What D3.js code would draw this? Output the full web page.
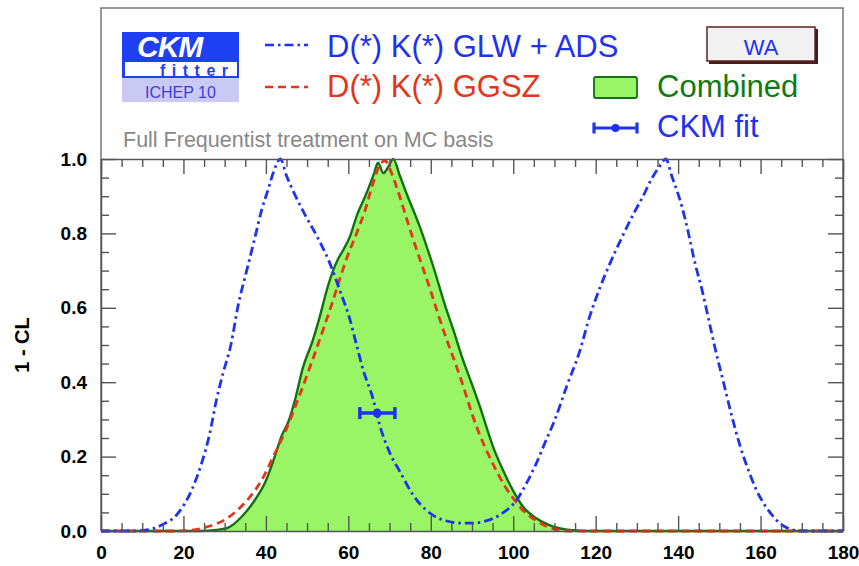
<!DOCTYPE html>
<html>
<head>
<meta charset="utf-8">
<script src="https://cdn.jsdelivr.net/npm/d3@7"></script>
<style>
  html, body { margin: 0; padding: 0; background: #fff; }
  svg { display: block; font-family: "Liberation Sans", Arial, Helvetica, sans-serif; }
</style>
</head>
<body>
<svg id="chart" width="859" height="566"></svg>
<script>
// gamma (degrees) scan, 1 - CL profiles
const glwAds = [
  [0,0],[8,0],[10.7,0.002],[14.7,0.016],[18.7,0.048],[22,0.11],[24.4,0.182],[26.4,0.263],
  [28,0.352],[29.6,0.424],[31.5,0.5],[33.3,0.608],[35.3,0.698],[37.3,0.787],[39,0.864],
  [40.6,0.92],[42,0.97],[43.5,1.0],[45,0.955],[47,0.905],[49.5,0.85],[52.5,0.79],
  [55.5,0.72],[57.9,0.648],[60.4,0.568],[62,0.5],[63.6,0.433],[66,0.355],[67.6,0.285],
  [70.1,0.209],[72.5,0.16],[75.7,0.097],[78.9,0.056],[82.9,0.03],[87.8,0.021],[90.3,0.021],
  [92.7,0.025],[96.7,0.043],[100.8,0.083],[103.2,0.128],[105.6,0.182],[108,0.245],
  [110.1,0.299],[113,0.39],[116.1,0.482],[118.5,0.575],[121,0.653],[123.5,0.72],
  [126.4,0.79],[129.2,0.853],[131.5,0.9],[133.5,0.945],[135.5,0.98],[137,1.0],[138.5,0.953],
  [140.9,0.873],[142.5,0.801],[144.1,0.72],[145.8,0.648],[147.6,0.559],[149,0.49],[151,0.4],
  [153,0.31],[155,0.23],[157,0.165],[159,0.11],[161,0.07],[163,0.04],[165,0.018],
  [167,0.006],[169,0.001],[171,0],[180,0]
];

const ggsz = [
  [0,0],[18,0],[22,0.002],[26,0.012],[30,0.03],[33,0.055],[36,0.09],[39,0.137],[42,0.205],
  [45,0.275],[48,0.36],[51,0.45],[54,0.545],[56,0.61],[58,0.68],[60,0.745],[62,0.8],
  [64,0.86],[66,0.935],[68,0.99],[69,0.995],[70,0.975],[72,0.915],[74,0.845],[76,0.775],
  [78,0.71],[80,0.645],[82,0.575],[84,0.51],[86,0.45],[88,0.385],[90,0.315],[92,0.255],
  [94,0.205],[96,0.16],[98,0.12],[100,0.088],[102,0.06],[104,0.04],[106,0.025],[108,0.013],
  [110,0.005],[113,0],[180,0]
];

const combined = [
  [0,0],[24,0],[28,0.003],[31,0.01],[34,0.037],[37,0.078],[40,0.135],[42,0.195],[43.8,0.255],
  [45.5,0.295],[47,0.35],[49,0.44],[51.3,0.51],[53.1,0.577],[54.7,0.645],[56.3,0.7],
  [57.6,0.733],[58.9,0.758],[60.4,0.792],[62,0.846],[64.4,0.908],[66.2,0.96],[67.2,0.99],
  [68.5,0.962],[69.5,0.975],[70.9,1.0],[72.5,0.955],[74.1,0.908],[77.3,0.819],[80.6,0.711],
  [83.8,0.595],[85.5,0.54],[87.5,0.47],[89.9,0.397],[91.9,0.335],[93.5,0.28],[95.1,0.227],
  [97.5,0.164],[99.9,0.11],[102.4,0.065],[105.6,0.034],[109.7,0.012],[114.5,0.002],[118,0],[180,0]
];

// global CKM fit: central value, errors, plotted height
const ckmFit = { value: 67, errLow: 4.2, errHigh: 4.3, level: 0.317 };

const xMajor = [0,20,40,60,80,100,120,140,160,180];
const xMinor = d3.range(0, 181, 5).filter(v => v % 20 !== 0);
const yMajor = [0,0.2,0.4,0.6,0.8,1.0];
const yMinor = d3.range(0, 21).map(i => i * 0.05).filter((v, i) => i % 4 !== 0);

const legendTexts = {
  glw: "D(*) K(*) GLW + ADS",
  ggsz: "D(*) K(*) GGSZ",
  combined: "Combined",
  fit: "CKM fit",
  note: "Full Frequentist treatment on MC basis",
  tag: "WA",
  yTitle: "1 - CL"
};

const C = {
  blue: "#1f33ee",
  red: "#e3361a",
  greenFill: "#99f565",
  greenLine: "#157015",
  greenText: "#0f7a10",
  axis: "#555",
  logoBlue: "#1e40f2",
  logoBand: "#c9c9f3"
};

const svg = d3.select("#chart");
const x = d3.scaleLinear().domain([0, 180]).range([101, 843]);
const y = d3.scaleLinear().domain([0, 1]).range([531, 159]);

// frame around legend panel + plot
svg.append("path")
  .attr("d", `M${x(0)},${y(0)}V8H${x(180)}V${y(0)}`)
  .attr("fill", "none").attr("stroke", "#777").attr("stroke-width", 1.5);

// combined area
const line = d3.line().x(d => x(d[0])).y(d => y(d[1])).curve(d3.curveMonotoneX);
const area = d3.area().x(d => x(d[0])).y0(y(0)).y1(d => y(d[1])).curve(d3.curveMonotoneX);

svg.append("path").datum(combined).attr("d", area).attr("fill", C.greenFill);

svg.append("path").datum(combined).attr("d", line)
  .attr("fill", "none").attr("stroke", C.greenLine).attr("stroke-width", 2.4);

svg.append("path").datum(ggsz).attr("d", line)
  .attr("fill", "none").attr("stroke", C.red).attr("stroke-width", 2.8)
  .attr("stroke-dasharray", "8,5");

svg.append("path").datum(glwAds).attr("d", line)
  .attr("fill", "none").attr("stroke", C.blue).attr("stroke-width", 2.8)
  .attr("stroke-dasharray", "9,4,2.5,4");

// CKM fit marker
const fitG = svg.append("g").attr("stroke", C.blue).attr("stroke-width", 3.5);
fitG.append("line")
  .attr("x1", x(ckmFit.value - ckmFit.errLow)).attr("x2", x(ckmFit.value + ckmFit.errHigh))
  .attr("y1", y(ckmFit.level)).attr("y2", y(ckmFit.level));
[ckmFit.value - ckmFit.errLow, ckmFit.value + ckmFit.errHigh].forEach(v => {
  fitG.append("line").attr("x1", x(v)).attr("x2", x(v))
    .attr("y1", y(ckmFit.level) - 6).attr("y2", y(ckmFit.level) + 6);
});
svg.append("circle").attr("cx", x(ckmFit.value)).attr("cy", y(ckmFit.level))
  .attr("r", 4.5).attr("fill", C.blue);

// axes: ticks drawn inward on all four sides
function styleAxis(g) {
  g.selectAll("path.domain").attr("stroke", C.axis).attr("stroke-width", 1.5);
  g.selectAll(".tick line").attr("stroke", C.axis).attr("stroke-width", 1.4);
  g.selectAll(".tick text").attr("fill", "#000").attr("font-weight", "bold")
    .attr("font-size", 19).attr("font-family", "Liberation Sans, Arial, sans-serif");
}

svg.append("g").attr("transform", `translate(0,${y(0)})`)
  .call(d3.axisBottom(x).tickValues(xMajor).tickSizeInner(-15).tickSizeOuter(0)
    .tickPadding(15).tickFormat(d3.format("d")))
  .call(styleAxis);
svg.append("g").attr("transform", `translate(0,${y(0)})`)
  .call(d3.axisBottom(x).tickValues(xMinor).tickSize(-8).tickFormat(""))
  .call(styleAxis).call(g => g.select("path.domain").remove());

svg.append("g").attr("transform", `translate(0,${y(1)})`)
  .call(d3.axisTop(x).tickValues(xMajor).tickSizeInner(-15).tickSizeOuter(0).tickFormat(""))
  .call(styleAxis);
svg.append("g").attr("transform", `translate(0,${y(1)})`)
  .call(d3.axisTop(x).tickValues(xMinor).tickSize(-8).tickFormat(""))
  .call(styleAxis).call(g => g.select("path.domain").remove());

svg.append("g").attr("transform", `translate(${x(0)},0)`)
  .call(d3.axisLeft(y).tickValues(yMajor).tickSizeInner(-15).tickSizeOuter(0)
    .tickPadding(14).tickFormat(d3.format(".1f")))
  .call(styleAxis);
svg.append("g").attr("transform", `translate(${x(0)},0)`)
  .call(d3.axisLeft(y).tickValues(yMinor).tickSize(-8).tickFormat(""))
  .call(styleAxis).call(g => g.select("path.domain").remove());

svg.append("g").attr("transform", `translate(${x(180)},0)`)
  .call(d3.axisRight(y).tickValues(yMajor).tickSizeInner(-15).tickSizeOuter(0).tickFormat(""))
  .call(styleAxis);
svg.append("g").attr("transform", `translate(${x(180)},0)`)
  .call(d3.axisRight(y).tickValues(yMinor).tickSize(-8).tickFormat(""))
  .call(styleAxis).call(g => g.select("path.domain").remove());

// y title
svg.append("text")
  .attr("transform", "translate(29,345) rotate(-90)")
  .attr("text-anchor", "middle").attr("font-weight", "bold").attr("font-size", 20)
  .text(legendTexts.yTitle);

// CKMfitter logo
const logo = svg.append("g");
logo.append("rect").attr("x", 122).attr("y", 32).attr("width", 117).attr("height", 46).attr("fill", C.logoBlue);
logo.append("rect").attr("x", 125).attr("y", 62).attr("width", 112).attr("height", 14).attr("fill", "#fff");
logo.append("rect").attr("x", 122).attr("y", 78).attr("width", 117).attr("height", 24).attr("fill", C.logoBand);
logo.append("text").attr("x", 137).attr("y", 57).attr("fill", "#fff")
  .attr("font-size", 30).attr("font-weight", "bold").attr("font-style", "italic")
  .attr("letter-spacing", -1).text("CKM");
logo.append("text").attr("x", 160).attr("y", 75.5).attr("fill", C.logoBlue)
  .attr("font-size", 16).attr("font-weight", "bold").attr("letter-spacing", 6.5).text("fitter");
logo.append("text").attr("x", 180.5).attr("y", 98).attr("fill", "#3d3dd6")
  .attr("font-size", 16).attr("text-anchor", "middle").text("ICHEP 10");

// legend samples
svg.append("line").attr("x1", 265).attr("x2", 308).attr("y1", 45).attr("y2", 45)
  .attr("stroke", C.blue).attr("stroke-width", 2.4).attr("stroke-dasharray", "9,4,2.5,4");
svg.append("line").attr("x1", 265).attr("x2", 308).attr("y1", 87).attr("y2", 87)
  .attr("stroke", C.red).attr("stroke-width", 2.4).attr("stroke-dasharray", "8,5");

svg.append("text").attr("x", 327).attr("y", 57).attr("font-size", 31).attr("fill", C.blue).text(legendTexts.glw);
svg.append("text").attr("x", 327).attr("y", 97).attr("font-size", 31).attr("fill", C.red).text(legendTexts.ggsz);

svg.append("rect").attr("x", 594).attr("y", 77).attr("width", 43).attr("height", 21).attr("rx", 2)
  .attr("fill", C.greenFill).attr("stroke", C.greenLine).attr("stroke-width", 1.8);
svg.append("text").attr("x", 657).attr("y", 97).attr("font-size", 31).attr("fill", C.greenText).text(legendTexts.combined);

const lf = svg.append("g").attr("stroke", C.blue).attr("stroke-width", 3.2);
lf.append("line").attr("x1", 594).attr("x2", 637).attr("y1", 128).attr("y2", 128);
lf.append("line").attr("x1", 594).attr("x2", 594).attr("y1", 122.5).attr("y2", 133.5);
lf.append("line").attr("x1", 637).attr("x2", 637).attr("y1", 122.5).attr("y2", 133.5);
svg.append("circle").attr("cx", 615.5).attr("cy", 128).attr("r", 4).attr("fill", C.blue);
svg.append("text").attr("x", 657).attr("y", 137).attr("font-size", 31).attr("fill", C.blue).text(legendTexts.fit);

svg.append("text").attr("x", 123).attr("y", 147).attr("font-size", 21.5).attr("fill", "#888").text(legendTexts.note);

// "WA" tag box with drop shadow
svg.append("rect").attr("x", 709).attr("y", 29).attr("width", 109).attr("height", 35).attr("fill", "#4a1a1a");
svg.append("rect").attr("x", 707).attr("y", 27).attr("width", 108).attr("height", 34)
  .attr("fill", "#f1f1f1").attr("stroke", "#5a2424").attr("stroke-width", 1.5);
svg.append("text").attr("x", 761).attr("y", 55).attr("text-anchor", "middle")
  .attr("font-size", 22).attr("fill", C.blue).text(legendTexts.tag);
</script>
</body>
</html>
